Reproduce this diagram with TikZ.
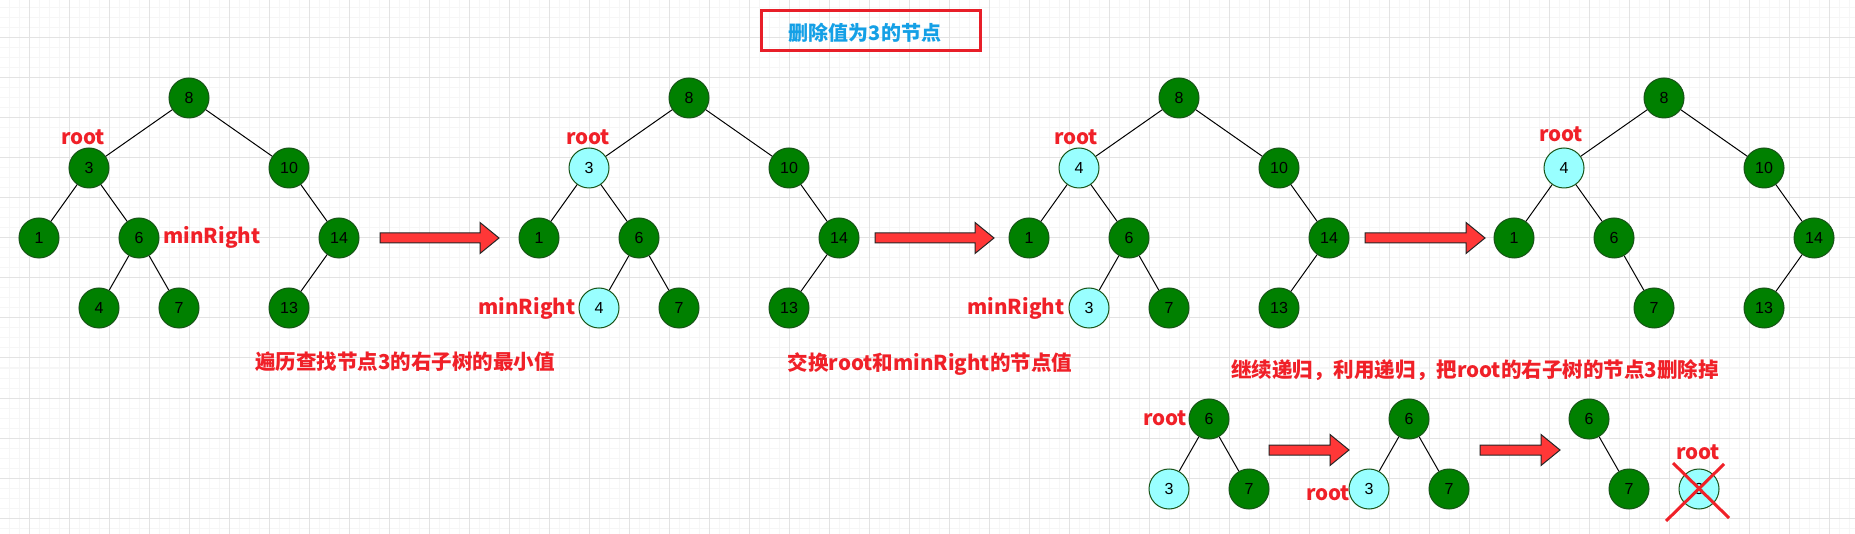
\documentclass[tikz,border=0pt]{standalone}
\usepackage{fontspec}
\setmainfont{Liberation Sans}
\newfontfamily\cjk{Noto Sans CJK SC}
\definecolor{ngreen}{RGB}{0,128,0}
\definecolor{nborder}{RGB}{24,84,24}
\definecolor{ncyan}{RGB}{153,255,255}
\definecolor{lblred}{RGB}{240,32,40}
\definecolor{ttlblue}{RGB}{20,160,230}
\definecolor{boxred}{RGB}{232,30,40}
\definecolor{arrred}{RGB}{255,55,55}
\definecolor{gridmaj}{RGB}{227,227,227}
\definecolor{gridmin}{RGB}{246,246,246}
\newcommand\fatarr[4]{%
  \draw[fatarrow] (#1,#4-5) -- (#2,#4-5) -- (#2,#4-15.5) -- (#3,#4) -- (#2,#4+15.5) -- (#2,#4+5) -- (#1,#4+5) -- cycle;}
\begin{document}
\begin{tikzpicture}[x=0.75pt,y=-0.75pt,
  gnode/.style={circle,draw=nborder,fill=ngreen,line width=0.75pt,minimum size=30pt,inner sep=0pt,font=\fontsize{12}{12}\selectfont},
  cnode/.style={gnode,fill=ncyan},
  edge/.style={draw=black,line width=0.75pt},
  lbl/.style={text=lblred,font=\cjk\bfseries\fontsize{15.4}{16}\selectfont,inner sep=0pt},
  fatarrow/.style={fill=arrred,draw=black!85,line width=0.75pt,line join=miter},
  xline/.style={draw=lblred,line width=2.25pt}]
\useasboundingbox (0,0) rectangle (1855,534);
\fill[white] (0,0) rectangle (1855,534);
% grid
\foreach \x in {9,19,...,1855} \draw[gridmin,line width=0.75pt] (\x,0) -- (\x,534);
\foreach \y in {8,18,...,534} \draw[gridmin,line width=0.75pt] (0,\y) -- (1855,\y);
\foreach \x in {29,69,...,1855} \draw[gridmaj,line width=0.75pt] (\x,0) -- (\x,534);
\foreach \y in {38,78,...,534} \draw[gridmaj,line width=0.75pt] (0,\y) -- (1855,\y);
% title
\draw[boxred,line width=2.25pt] (761.5,10.5) rectangle (980.5,50.5);
\node[text=ttlblue,font=\cjk\bfseries\fontsize{15}{16}\selectfont,inner sep=0pt] (title) at (865,33) {删除值为3的节点};
% tree 1
\node[gnode] (a8) at (189,98) {8};
\node[gnode] (a3) at (89,168) {3};
\node[gnode] (a10) at (289,168) {10};
\node[gnode] (a1) at (39,238) {1};
\node[gnode] (a6) at (139,238) {6};
\node[gnode] (a14) at (339,238) {14};
\node[gnode] (a4) at (99,308) {4};
\node[gnode] (a7) at (179,308) {7};
\node[gnode] (a13) at (289,308) {13};
\draw[edge] (a8) -- (a3); \draw[edge] (a8) -- (a10);
\draw[edge] (a3) -- (a1); \draw[edge] (a3) -- (a6);
\draw[edge] (a6) -- (a4); \draw[edge] (a6) -- (a7);
\draw[edge] (a10) -- (a14); \draw[edge] (a14) -- (a13);
\node[lbl] (aroot) at (83,137) {root};
\node[lbl] (amin) at (212,237) {minRight};
% tree 2
\node[gnode] (b8) at (689,98) {8};
\node[cnode] (b3) at (589,168) {3};
\node[gnode] (b10) at (789,168) {10};
\node[gnode] (b1) at (539,238) {1};
\node[gnode] (b6) at (639,238) {6};
\node[gnode] (b14) at (839,238) {14};
\node[cnode] (b4) at (599,308) {4};
\node[gnode] (b7) at (679,308) {7};
\node[gnode] (b13) at (789,308) {13};
\draw[edge] (b8) -- (b3); \draw[edge] (b8) -- (b10);
\draw[edge] (b3) -- (b1); \draw[edge] (b3) -- (b6);
\draw[edge] (b6) -- (b4); \draw[edge] (b6) -- (b7);
\draw[edge] (b10) -- (b14); \draw[edge] (b14) -- (b13);
\node[lbl] (broot) at (588,137) {root};
\node[lbl] (bmin) at (527,308) {minRight};
% tree 3
\node[gnode] (c8) at (1179,98) {8};
\node[cnode] (c4) at (1079,168) {4};
\node[gnode] (c10) at (1279,168) {10};
\node[gnode] (c1) at (1029,238) {1};
\node[gnode] (c6) at (1129,238) {6};
\node[gnode] (c14) at (1329,238) {14};
\node[cnode] (c3) at (1089,308) {3};
\node[gnode] (c7) at (1169,308) {7};
\node[gnode] (c13) at (1279,308) {13};
\draw[edge] (c8) -- (c4); \draw[edge] (c8) -- (c10);
\draw[edge] (c4) -- (c1); \draw[edge] (c4) -- (c6);
\draw[edge] (c6) -- (c3); \draw[edge] (c6) -- (c7);
\draw[edge] (c10) -- (c14); \draw[edge] (c14) -- (c13);
\node[lbl] (croot) at (1076,137) {root};
\node[lbl] (cmin) at (1016,308) {minRight};
% tree 4
\node[gnode] (d8) at (1664,98) {8};
\node[cnode] (d4) at (1564,168) {4};
\node[gnode] (d10) at (1764,168) {10};
\node[gnode] (d1) at (1514,238) {1};
\node[gnode] (d6) at (1614,238) {6};
\node[gnode] (d14) at (1814,238) {14};
\node[gnode] (d7) at (1654,308) {7};
\node[gnode] (d13) at (1764,308) {13};
\draw[edge] (d8) -- (d4); \draw[edge] (d8) -- (d10);
\draw[edge] (d4) -- (d1); \draw[edge] (d4) -- (d6);
\draw[edge] (d6) -- (d7);
\draw[edge] (d10) -- (d14); \draw[edge] (d14) -- (d13);
\node[lbl] (droot) at (1561,134) {root};
% big arrows
\fatarr{380}{480}{499}{238}
\fatarr{875}{975}{994}{238}
\fatarr{1365}{1466}{1485}{238}
% captions
\node[lbl] (cap1) at (405,362) {遍历查找节点3的右子树的最小值};
\node[lbl] (cap2) at (930,364) {交换root和minRight的节点值};
\node[lbl] (cap3) at (1475,370) {继续递归，利用递归，把root的右子树的节点3删除掉};
% bottom small trees
\node[gnode] (e6) at (1209,419) {6};
\node[cnode] (e3) at (1169,489) {3};
\node[gnode] (e7) at (1249,489) {7};
\draw[edge] (e6) -- (e3); \draw[edge] (e6) -- (e7);
\node[lbl] (eroot) at (1165,418) {root};
\node[gnode] (f6) at (1409,419) {6};
\node[cnode] (f3) at (1369,489) {3};
\node[gnode] (f7) at (1449,489) {7};
\draw[edge] (f6) -- (f3); \draw[edge] (f6) -- (f7);
\node[lbl] (froot) at (1328,493) {root};
\node[gnode] (g6) at (1589,419) {6};
\node[gnode] (g7) at (1629,489) {7};
\node[cnode] (g3) at (1699,489) {3};
\draw[edge] (g6) -- (g7);
\node[lbl] (groot) at (1698,452) {root};
\coordinate (x1a) at (1673,463); \coordinate (x1b) at (1729,518);
\coordinate (x2a) at (1724,464); \coordinate (x2b) at (1666,521);
\draw[xline] (x1a) -- (x1b);
\draw[xline] (x2a) -- (x2b);
\fatarr{1269}{1330}{1349}{450}
\fatarr{1480}{1541}{1560}{450}
\end{tikzpicture}
\end{document}
